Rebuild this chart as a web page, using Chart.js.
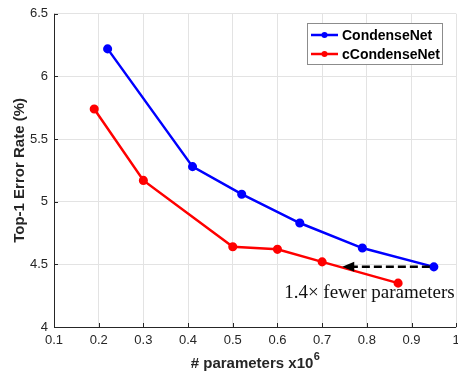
<!DOCTYPE html>
<html>
<head>
<meta charset="utf-8">
<script src="https://cdn.jsdelivr.net/npm/chart.js@4.4.1/dist/chart.umd.min.js"></script>
<style>
  html, body { margin: 0; padding: 0; background: #fff; overflow: hidden; }
  #wrap { width: 462px; height: 372px; }
</style>
</head>
<body>
<div id="wrap"><canvas id="chart" width="462" height="372"></canvas></div>
<script>
// data (params in millions, top-1 error %)
const condenseParams = [0.22, 0.41, 0.52, 0.65, 0.79, 0.95];
const condenseError  = [6.22, 5.28, 5.06, 4.83, 4.63, 4.48];
const cCondenseParams = [0.19, 0.30, 0.50, 0.60, 0.70, 0.87];
const cCondenseError  = [5.74, 5.17, 4.64, 4.62, 4.52, 4.35];

const xTicks = [0.1, 0.2, 0.3, 0.4, 0.5, 0.6, 0.7, 0.8, 0.9, 1];
const yTicks = [4, 4.5, 5, 5.5, 6, 6.5];

// arrow annotation
const arrowFromX = 0.95, arrowToX = 0.745, arrowY = 4.48;
const noteText = '1.4\u00d7 fewer parameters';
const noteX = 0.615, noteY = 4.27;

const xTitle = '# parameters x10';
const xTitleExp = '6';

const toPoints = (xs, ys) => xs.map((x, i) => ({ x, y: ys[i] }));

const tickColor = '#262626';
const gridColor = '#e3e3e3';
const sans = '"Liberation Sans", Arial, sans-serif';

// inward ticks, axis lines, x title with superscript
const axisBox = {
  id: 'axisBox',
  afterDraw(chart) {
    const { ctx, chartArea: a, scales: { x, y } } = chart;
    ctx.save();
    ctx.strokeStyle = tickColor;
    ctx.lineWidth = 1;
    ctx.beginPath();
    ctx.moveTo(a.left + 0.5, a.top);
    ctx.lineTo(a.left + 0.5, a.bottom + 0.5);
    ctx.lineTo(a.right, a.bottom + 0.5);
    xTicks.forEach(v => {
      const px = Math.round(x.getPixelForValue(v)) + 0.5;
      ctx.moveTo(px, a.bottom);
      ctx.lineTo(px, a.bottom - 4);
    });
    yTicks.forEach(v => {
      const py = Math.round(y.getPixelForValue(v)) + 0.5;
      ctx.moveTo(a.left, py);
      ctx.lineTo(a.left + 4, py);
    });
    ctx.stroke();

    // x axis title
    ctx.fillStyle = tickColor;
    ctx.textBaseline = 'alphabetic';
    ctx.font = 'bold 15px ' + sans;
    const w1 = ctx.measureText(xTitle).width;
    ctx.font = 'bold 11px ' + sans;
    const w2 = ctx.measureText(xTitleExp).width;
    const cx = (a.left + a.right) / 2;
    const startX = cx - (w1 + w2) / 2;
    const base = 368;
    ctx.font = 'bold 15px ' + sans;
    ctx.fillText(xTitle, startX, base);
    ctx.font = 'bold 11px ' + sans;
    ctx.fillText(xTitleExp, startX + w1 + 0.5, base - 8);
    ctx.restore();
  }
};

// dashed arrow and note
const annotation = {
  id: 'annotation',
  afterDatasetsDraw(chart) {
    const { ctx, scales: { x, y } } = chart;
    const x0 = x.getPixelForValue(arrowFromX);
    const x1 = x.getPixelForValue(arrowToX);
    const py = y.getPixelForValue(arrowY);
    ctx.save();
    ctx.strokeStyle = '#000';
    ctx.lineWidth = 2.5;
    ctx.setLineDash([8, 4]);
    ctx.beginPath();
    ctx.moveTo(x0 - 4, py);
    ctx.lineTo(x1 + 10, py);
    ctx.stroke();
    ctx.setLineDash([]);
    ctx.fillStyle = '#000';
    ctx.beginPath();
    ctx.moveTo(x1, py);
    ctx.lineTo(x1 + 12, py - 5);
    ctx.lineTo(x1 + 12, py + 5);
    ctx.closePath();
    ctx.fill();
    ctx.fillStyle = '#111';
    ctx.font = '19px "Liberation Serif", "DejaVu Serif", serif';
    ctx.textBaseline = 'middle';
    ctx.fillText(noteText, x.getPixelForValue(noteX), y.getPixelForValue(noteY));
    ctx.restore();
  }
};

// legend box in the upper right of the plot
const boxLegend = {
  id: 'boxLegend',
  afterDraw(chart) {
    const { ctx } = chart;
    const left = 307, top = 23, w = 135, h = 41;
    ctx.save();
    ctx.fillStyle = '#fff';
    ctx.fillRect(left, top, w, h);
    ctx.strokeStyle = '#8c8c8c';
    ctx.lineWidth = 1;
    ctx.strokeRect(left + 0.5, top + 0.5, w, h);
    ctx.font = 'bold 14px ' + sans;
    ctx.textBaseline = 'middle';
    chart.data.datasets.forEach((ds, i) => {
      const cy = top + 12 + i * 19;
      ctx.strokeStyle = ds.borderColor;
      ctx.lineWidth = 2.5;
      ctx.beginPath();
      ctx.moveTo(left + 4, cy);
      ctx.lineTo(left + 31, cy);
      ctx.stroke();
      ctx.fillStyle = ds.borderColor;
      ctx.beginPath();
      ctx.arc(left + 17.5, cy, 3, 0, Math.PI * 2);
      ctx.fill();
      ctx.fillStyle = '#000';
      ctx.fillText(ds.label, left + 35, cy + 1);
    });
    ctx.restore();
  }
};

new Chart(document.getElementById('chart'), {
  type: 'scatter',
  data: {
    datasets: [{
      label: 'CondenseNet',
      data: toPoints(condenseParams, condenseError),
      borderColor: '#0000ff',
      backgroundColor: '#0000ff',
      showLine: true,
      borderWidth: 2.5,
      pointRadius: 3.3,
      pointHoverRadius: 3.3
    }, {
      label: 'cCondenseNet',
      data: toPoints(cCondenseParams, cCondenseError),
      borderColor: '#ff0000',
      backgroundColor: '#ff0000',
      showLine: true,
      borderWidth: 2.5,
      pointRadius: 3.3,
      pointHoverRadius: 3.3
    }]
  },
  options: {
    responsive: false,
    animation: false,
    layout: { padding: { top: 11, right: 2, left: 0, bottom: 0 } },
    plugins: { legend: { display: false }, tooltip: { enabled: false } },
    scales: {
      x: {
        type: 'linear',
        min: 0.1, max: 1,
        afterBuildTicks: s => { s.ticks = xTicks.map(v => ({ value: v })); },
        afterFit: s => { s.height = 45; s.paddingRight = 0; },
        ticks: {
          color: tickColor,
          font: { family: sans, size: 13 },
          padding: 6,
          maxRotation: 0,
          callback: v => String(v)
        },
        grid: { color: gridColor, drawTicks: false, tickLength: 0 },
        border: { display: false },
        title: { display: false }
      },
      y: {
        min: 4, max: 6.5,
        afterBuildTicks: s => { s.ticks = yTicks.map(v => ({ value: v })); },
        afterFit: s => { s.width = 54; },
        ticks: {
          color: tickColor,
          font: { family: sans, size: 13 },
          padding: 6,
          callback: v => String(v)
        },
        grid: { color: gridColor, drawTicks: false, tickLength: 0 },
        border: { display: false },
        title: {
          display: true,
          text: 'Top-1 Error Rate (%)',
          color: tickColor,
          font: { family: sans, size: 15, weight: 'bold' },
          padding: { top: 11, bottom: 0 }
        }
      }
    }
  },
  plugins: [axisBox, annotation, boxLegend]
});
</script>
</body>
</html>
